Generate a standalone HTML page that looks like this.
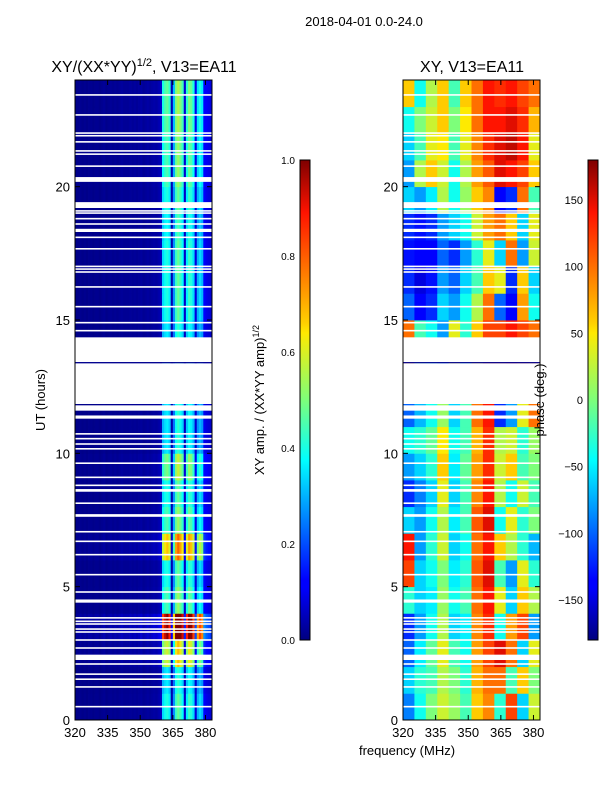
<!DOCTYPE html>
<html><head><meta charset="utf-8"><style>
body{margin:0;background:#fff;width:600px;height:800px;overflow:hidden;font-family:"Liberation Sans","DejaVu Sans",sans-serif}
svg text{font-family:"Liberation Sans","DejaVu Sans",sans-serif;fill:#000}
</style></head><body>
<svg id="fig" width="600" height="800" xmlns="http://www.w3.org/2000/svg">
<defs><linearGradient id="jet" x1="0" y1="1" x2="0" y2="0">
<stop offset="0" stop-color="#00007f"/><stop offset="0.11" stop-color="#0000ff"/><stop offset="0.125" stop-color="#0000ff"/>
<stop offset="0.34" stop-color="#00dbff"/><stop offset="0.375" stop-color="#00ffff"/><stop offset="0.5" stop-color="#7dff7a"/>
<stop offset="0.64" stop-color="#ffea00"/><stop offset="0.66" stop-color="#ffd000"/><stop offset="0.89" stop-color="#ff1300"/><stop offset="1" stop-color="#7f0000"/>
</linearGradient></defs>
<text x="364" y="26" font-size="13" text-anchor="middle">2018-04-01 0.0-24.0</text>
<text x="144" y="72" font-size="16" text-anchor="middle">XY/(XX*YY)<tspan font-size="11" dy="-6">1/2</tspan><tspan dy="6">, V13=EA11</tspan></text>
<text x="472" y="72" font-size="16" text-anchor="middle">XY, V13=EA11</text>
<text x="407" y="755" font-size="13" text-anchor="middle">frequency (MHz)</text>
<text transform="translate(45,400) rotate(-90)" font-size="13" text-anchor="middle">UT (hours)</text>
<g id="left"></g>
<g id="right"></g>
<g id="axes"></g>
<rect x="300" y="160" width="10" height="480" fill="url(#jet)" stroke="#000" stroke-width="1"/>
<rect x="588" y="160" width="10" height="480" fill="url(#jet)" stroke="#000" stroke-width="1"/>
<text transform="translate(264,400) rotate(-90)" font-size="13" text-anchor="middle">XY amp. / (XX*YY amp)<tspan font-size="9" dy="-5">1/2</tspan></text>
<text transform="translate(544,400) rotate(-90)" font-size="13" text-anchor="middle">phase (deg.)</text>
</svg>
<script>
const ampChannels = [320,321,322,323,324,325,326,327,328,329,330,331,332,333,334,335,336,337,338,339,340,341,342,343,344,345,346,347,348,349,350,351,352,353,354,355,356,357,358,359,360,361,362,363,364,365,366,367,368,369,370,371,372,373,374,375,376,377,378,379,380,381,382];
const ampProfile = [0.01,0.01,0.015,0.01,0.015,0.01,0.015,0.015,0.01,0.015,0.015,0.01,0.015,0.02,0.01,0.015,0.02,0.015,0.02,0.015,0.02,0.025,0.02,0.02,0.02,0.025,0.02,0.025,0.02,0.025,0.03,0.02,0.025,0.03,0.025,0.03,0.035,0.03,0.04,0.06,0.38,0.43,0.45,0.4,0.05,0.3,0.48,0.53,0.48,0.42,0.07,0.4,0.48,0.45,0.38,0.09,0.33,0.38,0.34,0.12,0.1,0.09,0.08];
const hours = [0,1,2,3,4,5,6,7,8,9,10,11,12,13,14,15,16,17,18,19,20,21,22,23];
const ampRowGain = [0.9,0.8,1.3,2.2,1.0,0.9,1.5,1.0,0.9,1.1,0.8,0.8,0.8,0.8,0.8,0.9,0.9,0.9,0.85,0.9,1.0,1.0,1.05,1.05];
const phaseChannels = [320,325.25,330.5,335.75,341,346.25,351.5,356.75,362,367.25,372.5,377.75];
const phaseRows = [
[-90,-40,0,30,10,-20,60,90,-30,120,-60,30],
[-60,-30,-20,20,0,-30,70,100,100,-20,60,0],
[-100,-50,-10,40,-20,-40,80,120,150,100,-60,40],
[-120,-80,-40,20,-60,-50,90,130,-40,80,120,-80],
[-30,-60,-50,10,-40,-20,100,140,40,-60,60,20],
[120,-60,-40,0,-50,-30,110,150,-20,-80,40,-30],
[140,-80,-30,30,-60,-40,100,140,60,20,-30,-70],
[-60,-80,-40,20,-50,-20,110,150,-40,40,-30,0],
[-120,-90,-60,40,-60,-20,90,140,20,-40,30,-20],
[-80,-60,-30,60,-50,-10,80,130,30,60,-20,0],
[-40,-30,-10,50,-40,-20,70,130,20,30,-30,10],
[-100,-70,-40,10,-60,-20,100,140,-120,-80,40,100],
[-100,-70,-40,10,-60,-20,100,140,-120,-80,40,100],
[100,-20,-40,-80,40,-30,60,120,120,140,120,100],
[100,-20,-40,-80,40,-30,60,120,120,140,120,100],
[-100,-140,-120,-60,-80,-40,20,100,-100,-140,80,-40],
[-120,-150,-130,-80,-100,-60,-20,60,40,-120,60,-60],
[-130,-140,-140,-100,-120,-80,-30,40,-60,100,-80,30],
[-120,-130,-120,-80,-60,-40,30,80,100,60,-60,40],
[-60,-80,-50,20,-40,10,60,90,-140,-120,100,-20],
[-80,20,60,30,-40,20,80,110,150,140,120,60],
[-60,-20,40,50,-20,40,90,130,150,160,140,40],
[-40,0,30,60,0,50,100,140,140,150,130,70],
[60,-40,20,60,-20,60,100,140,130,140,120,100]];
const flagStart = [23.41,22.66,21.98,21.88,21.65,21.31,21.19,20.74,20.18,19.2,19.06,18.98,18.77,18.57,18.3,18.07,17.64,16.98,16.88,16.77,16.21,15.47,14.87,14.57,13.42,11.85,11.6,11.3,10.7,10.52,10.32,10.14,9.6,9.07,8.77,8.56,8.1,7.62,7.03,6.67,6.17,5.42,4.77,4.4,3.8,3.67,3.57,3.38,3.27,2.97,2.67,2.25,2.07,1.69,1.5,1.21,0.47];
const flagEnd   = [23.47,22.72,22.04,21.94,21.71,21.37,21.25,20.8,20.36,19.42,19.12,19.04,18.83,18.63,18.42,18.13,17.7,17.04,16.94,16.83,16.27,15.53,14.93,14.63,14.35,13.38,11.8,11.42,10.76,10.58,10.38,10.2,9.66,9.13,8.83,8.66,8.16,7.72,7.09,6.73,6.23,5.48,4.83,4.52,3.86,3.73,3.63,3.44,3.33,3.03,2.73,2.45,2.13,1.75,1.56,1.27,0.53];

const NS='http://www.w3.org/2000/svg';
const panels=[{x0:75,name:'left'},{x0:403,name:'right'}];
const PW=137, Y0=80, PH=640, FMIN=320, FMAX=383;
function xs(x0,f){return x0+(f-FMIN)/(FMAX-FMIN)*PW;}
function ys(h){return Y0+PH-(h/24)*PH;}
function jet(v){v=Math.max(0,Math.min(1,v));
 const st=[[0,0,0,127],[0.11,0,0,255],[0.125,0,0,255],[0.34,0,219,255],[0.375,0,255,255],[0.5,125,255,122],[0.64,255,234,0],[0.66,255,208,0],[0.89,255,19,0],[1,127,0,0]];
 for(let i=1;i<st.length;i++){if(v<=st[i][0]){const a=st[i-1],b=st[i],t=(v-a[0])/((b[0]-a[0])||1);
 return `rgb(${Math.round(a[1]+t*(b[1]-a[1]))},${Math.round(a[2]+t*(b[2]-a[2]))},${Math.round(a[3]+t*(b[3]-a[3]))})`;}}return 'rgb(127,0,0)';}
function mk(tag,attrs,parent){const e=document.createElementNS(NS,tag);for(const k in attrs)e.setAttribute(k,attrs[k]);parent.appendChild(e);return e;}
const L=document.getElementById('left'), R=document.getElementById('right');
hours.forEach((h,r)=>{
 ampChannels.forEach((f,c)=>{
  const e=mk('rect',{x:xs(75,f),y:ys(h+1),width:PW/(FMAX-FMIN)+0.4,height:PH/24+0.4,fill:jet(ampProfile[c]*ampRowGain[r])},L);
  
  
 });
 phaseChannels.forEach((f,c)=>{
  const w=(FMAX-FMIN)/phaseChannels.length;
  const e=mk('rect',{x:xs(403,f),y:ys(h+1),width:PW*w/(FMAX-FMIN)+0.4,height:PH/24+0.4,fill:jet((phaseRows[r][c]+180)/360)},R);
  
  
 });
});
panels.forEach(p=>{
 const g=p.name==='left'?L:R;
 flagStart.forEach((s,i)=>{
  const e=mk('rect',{x:p.x0,y:ys(flagEnd[i]),width:PW,height:Math.max(1.5,ys(s)-ys(flagEnd[i])),fill:'#fff'},g);
  
  
 });
 const ln=mk('rect',{x:p.x0,y:ys(13.4)-0.6,width:PW,height:1.2,fill:'#00008f'},g);
 
 
});
const A=document.getElementById('axes');
const xTicks=[320,335,350,365,380], yTicks=[0,5,10,15,20];
panels.forEach(p=>{
 const fr=mk('rect',{x:p.x0,y:Y0,width:PW,height:PH,fill:'none',stroke:'#000','stroke-width':1},A);
 
 
 xTicks.forEach(t=>{const x=xs(p.x0,t);
  mk('line',{x1:x,x2:x,y1:Y0+PH,y2:Y0+PH-5,stroke:'#000'},A);
  mk('line',{x1:x,x2:x,y1:Y0,y2:Y0+5,stroke:'#000'},A);
  const tx=mk('text',{x:x,y:737,'font-size':13,'text-anchor':'middle'},A);tx.textContent=t;
  
  
 });
 yTicks.forEach(t=>{const y=ys(t);
  mk('line',{x1:p.x0,x2:p.x0+5,y1:y,y2:y,stroke:'#000'},A);
  mk('line',{x1:p.x0+PW,x2:p.x0+PW-5,y1:y,y2:y,stroke:'#000'},A);
  const tx=mk('text',{x:p.x0-5,y:y+5,'font-size':13,'text-anchor':'end'},A);tx.textContent=t;
  
  
 });
});
const ampTicks=['0.0','0.2','0.4','0.6','0.8','1.0'];
ampTicks.forEach((t,i)=>{const y=640-i*96;
 mk('line',{x1:300,x2:304,y1:y,y2:y,stroke:'#000'},A);mk('line',{x1:306,x2:310,y1:y,y2:y,stroke:'#000'},A);
 const tx=mk('text',{x:295,y:y+4,'font-size':10,'text-anchor':'end'},A);tx.textContent=t;
 
 
});
const phaseTicks=[-150,-100,-50,0,50,100,150];
phaseTicks.forEach(t=>{const y=400-t*480/360;
 mk('line',{x1:588,x2:592,y1:y,y2:y,stroke:'#000'},A);mk('line',{x1:594,x2:598,y1:y,y2:y,stroke:'#000'},A);
 const tx=mk('text',{x:583,y:y+4,'font-size':11,'text-anchor':'end'},A);tx.textContent=t<0?'\u2212'+(-t):t;
 
 
});
</script>
</body></html>
